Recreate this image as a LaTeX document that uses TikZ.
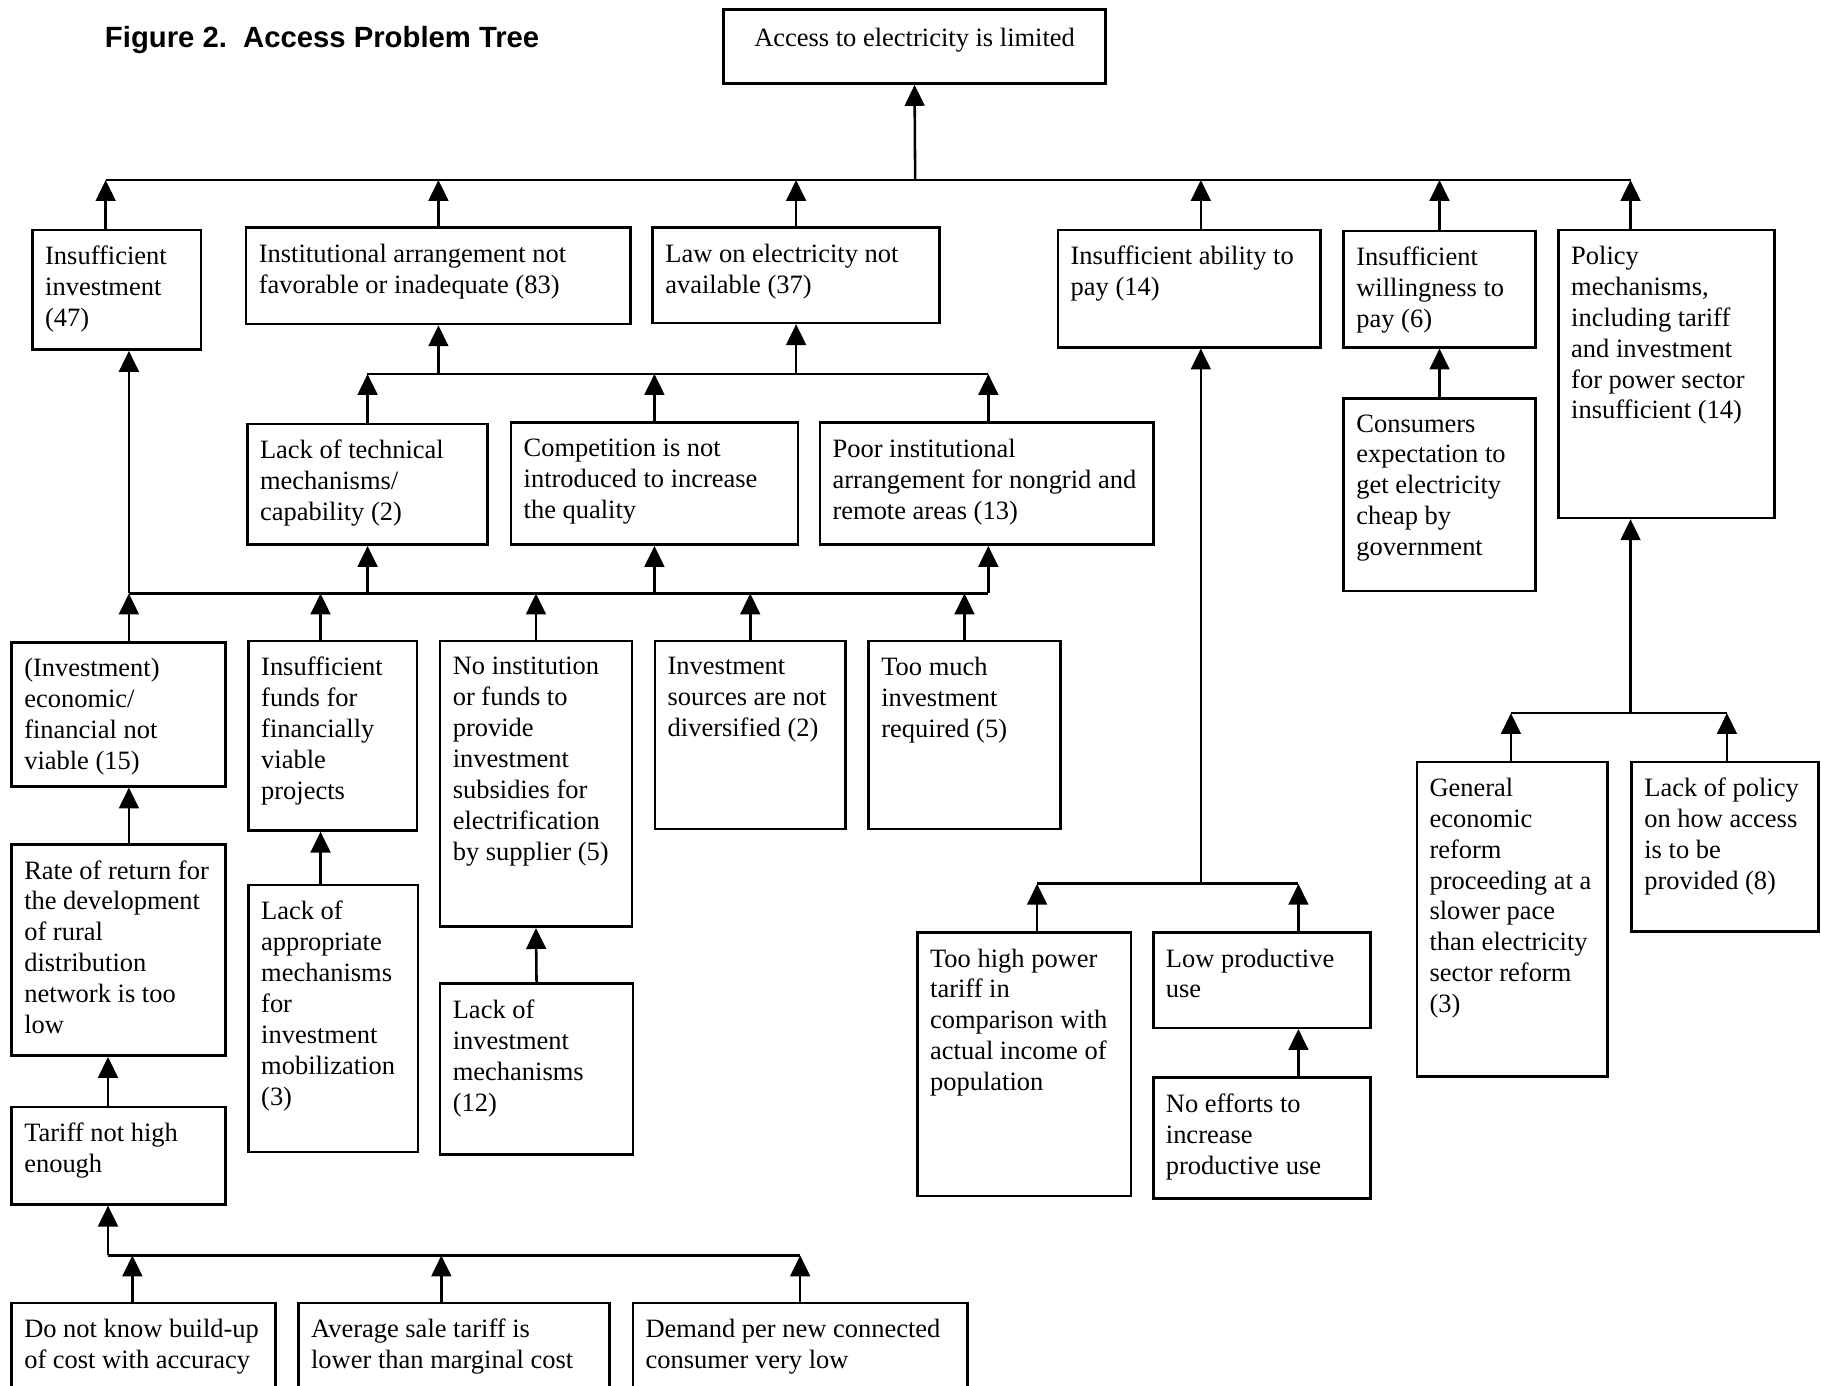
\documentclass[tikz,border=0pt]{standalone}
\usepackage{fontspec}
\setmainfont{Liberation Serif}
\newfontfamily\titlefont{Liberation Sans}
\usetikzlibrary{arrows.meta,fit}
\newcommand\pbox[6]{%
  \node[box, fit={(#2,#3)(#4,#5)}] (#1) {};
  \node[txt] (#1-t) at ([xshift=5.8pt,yshift=-7.3pt]#1.north west) {#6};}
\begin{document}
\begin{tikzpicture}[x=0.5pt,y=-0.5pt,
  box/.style={draw, line width=1.1pt, inner sep=0pt, rectangle},
  txt/.style={anchor=north west, inner sep=0pt, align=left, font=\fontsize{11.4}{13.3}\selectfont},
  arr/.style={line width=1.1pt, -{Triangle[length=9pt,width=8.5pt]}},
  bus/.style={line width=1.2pt}]
\useasboundingbox (0,0) rectangle (1568,1193);
\clip (0,0) rectangle (1568,1193);

\node[anchor=base west, inner sep=0pt, font=\titlefont\bfseries\fontsize{12.6}{14}\selectfont] (title) at (90,41) {Figure 2.\ \ Access Problem Tree};

% top
\node[box, fit={(623,8)(952,72)}] (top) {};
\node[txt, anchor=north] (top-t) at ([yshift=-8.6pt]top.north) {Access to electricity is limited};

% row 1
\pbox{inv}{28}{198}{173}{301}{Insufficient\\investment\\(47)}
\pbox{inst}{212}{196}{543}{279}{Institutional arrangement not\\favorable or inadequate (83)}
\pbox{law}{562}{196}{809}{278}{Law on electricity not\\available (37)}
\pbox{abil}{911}{198}{1137}{299}{Insufficient ability to\\pay (14)}
\pbox{will}{1157}{199}{1322}{299}{Insufficient\\willingness to\\pay (6)}
\pbox{pol}{1342}{198}{1528}{446}{Policy\\mechanisms,\\including tariff\\and investment\\for power sector\\insufficient (14)}

% row 2
\pbox{tech}{213}{365}{420}{469}{Lack of technical\\mechanisms/\\capability (2)}
\pbox{comp}{440}{364}{687}{469}{Competition is not\\introduced to increase\\the quality}
\pbox{poor}{706}{364}{993}{469}{Poor institutional\\arrangement for nongrid and\\remote areas (13)}
\pbox{cons}{1157}{343}{1322}{509}{Consumers\\expectation to\\get electricity\\cheap by\\government}

% row 3
\pbox{econ}{10}{553}{194}{677}{(Investment)\\economic/\\financial not\\viable (15)}
\pbox{funds}{214}{552}{359}{715}{Insufficient\\funds for\\financially\\viable\\projects}
\pbox{noinst}{379}{552}{544}{798}{No institution\\or funds to\\provide\\investment\\subsidies for\\electrification\\by supplier (5)}
\pbox{div}{564}{552}{728}{714}{Investment\\sources are not\\diversified (2)}
\pbox{much}{748}{552}{913}{714}{Too much\\investment\\required (5)}

% lower left
\pbox{rate}{10}{727}{194}{909}{Rate of return for\\the development\\of rural\\distribution\\network is too\\low}
\pbox{tariff}{10}{953}{194}{1037}{Tariff not high\\enough}
\pbox{mob}{214}{762}{360}{992}{Lack of\\appropriate\\mechanisms\\for\\investment\\mobilization\\(3)}
\pbox{lim}{379}{847}{545}{994}{Lack of\\investment\\mechanisms\\(12)}
\pbox{build}{10}{1122}{237}{1240}{Do not know build-up\\of cost with accuracy}
\pbox{avg}{257}{1122}{525}{1240}{Average sale tariff is\\lower than marginal cost}
\pbox{dem}{545}{1122}{833}{1240}{Demand per new connected\\consumer very low}

% ability branch
\pbox{high}{790}{803}{974}{1030}{Too high power\\tariff in\\comparison with\\actual income of\\population}
\pbox{low}{993}{803}{1180}{885}{Low productive\\use}
\pbox{eff}{993}{928}{1180}{1032}{No efforts to\\increase\\productive use}

% policy branch
\pbox{gen}{1220}{656}{1384}{927}{General\\economic\\reform\\proceeding at a\\slower pace\\than electricity\\sector reform\\(3)}
\pbox{lack}{1405}{656}{1566}{802}{Lack of policy\\on how access\\is to be\\provided (8)}

% bus coordinates
\coordinate (b1L) at (91,155);
\coordinate (b1R) at (1404,155);
\coordinate (b1top) at (788,155);
\coordinate (b1abil) at (1034,155);
\coordinate (b2L) at (316,322);
\coordinate (b2R) at (851,322);
\coordinate (b3L) at (111,511);
\coordinate (b3f) at (276,511);
\coordinate (b3R) at (851,511);
\coordinate (b4L) at (93,1081);
\coordinate (b4a) at (114,1081);
\coordinate (b4b) at (380,1081);
\coordinate (b4R) at (689,1081);
\coordinate (b5L) at (893,761);
\coordinate (b5top) at (1034,761);
\coordinate (b5R) at (1118,761);
\coordinate (b6L) at (1301,614);
\coordinate (b6top) at (1404,614);
\coordinate (b6R) at (1487,614);

% bus 1
\draw[bus] (b1L) -- (b1R);
\draw[arr] (b1top) -- (top.south);
\draw[arr] (inv.north -| b1L) -- (b1L);
\draw[arr] (inst.north) -- (inst.north |- b1L);
\draw[arr] (law.north) -- (law.north |- b1L);
\draw[arr] (abil.north -| b1abil) -- (b1abil);
\draw[arr] (will.north) -- (will.north |- b1L);
\draw[arr] (pol.north -| b1R) -- (b1R);

% bus 2
\draw[bus] (b2L) -- (b2R);
\draw[arr] (inst.south |- b2L) -- (inst.south);
\draw[arr] (law.south |- b2L) -- (law.south);
\draw[arr] (tech.north) -- (tech.north |- b2L);
\draw[arr] (comp.north) -- (comp.north |- b2L);
\draw[arr] (poor.north -| b2R) -- (b2R);

% bus 3
\draw[bus] (b3L) -- (b3R);
\draw[arr] (b3L) -- (inv.south -| b3L);
\draw[arr] (tech.south |- b3L) -- (tech.south);
\draw[arr] (comp.south |- b3L) -- (comp.south);
\draw[arr] (b3R) -- (poor.south -| b3R);
\draw[arr] (econ.north -| b3L) -- (b3L);
\draw[arr] (funds.north -| b3f) -- (b3f);
\draw[arr] (noinst.north) -- (noinst.north |- b3L);
\draw[arr] (div.north) -- (div.north |- b3L);
\draw[arr] (much.north) -- (much.north |- b3L);

% lower left chains
\draw[arr] (rate.north -| b3L) -- (econ.south -| b3L);
\draw[arr] (tariff.north -| b4L) -- (rate.south -| b4L);
\draw[arr] (mob.north -| b3f) -- (funds.south -| b3f);
\draw[arr] (lim.north) -- (noinst.south);

% bus 4
\draw[bus] (b4L) -- (b4R);
\draw[arr] (b4L) -- (tariff.south -| b4L);
\draw[arr] (build.north -| b4a) -- (b4a);
\draw[arr] (avg.north -| b4b) -- (b4b);
\draw[arr] (dem.north -| b4R) -- (b4R);

% ability branch
\draw[bus] (b5L) -- (b5R);
\draw[arr] (b5top) -- (abil.south -| b5top);
\draw[arr] (high.north -| b5L) -- (b5L);
\draw[arr] (low.north -| b5R) -- (b5R);
\draw[arr] (eff.north -| b5R) -- (low.south -| b5R);

% willingness
\draw[arr] (cons.north) -- (will.south);

% policy
\draw[bus] (b6L) -- (b6R);
\draw[arr] (b6top) -- (pol.south -| b6top);
\draw[arr] (gen.north -| b6L) -- (b6L);
\draw[arr] (lack.north -| b6R) -- (b6R);
\end{tikzpicture}
\end{document}
